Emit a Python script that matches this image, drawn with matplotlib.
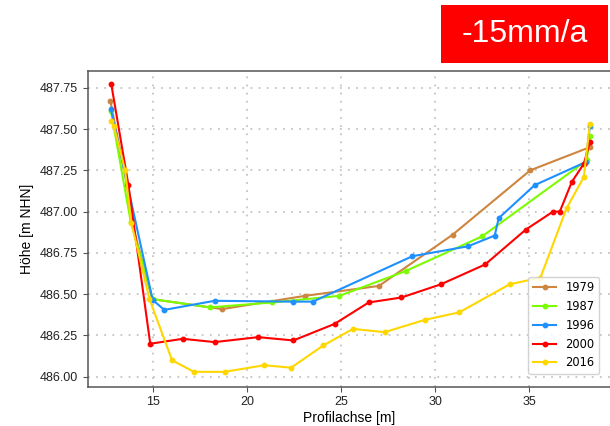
import numpy as np
import matplotlib.pyplot as plt
from matplotlib.patches import Rectangle

# profile data: x = Profilachse [m], y = Hoehe [m NHN]
x_1979 = [12.72, 13.60, 13.85, 14.95, 18.67, 23.07, 27.00, 30.92, 35.05, 38.22]
y_1979 = [487.67, 487.16, 486.94, 486.47, 486.41, 486.49, 486.55, 486.86, 487.25, 487.39]

x_1987 = [12.75, 13.80, 14.97, 18.00, 21.33, 24.90, 28.42, 32.49, 38.05, 38.22]
y_1987 = [487.61, 486.94, 486.47, 486.42, 486.45, 486.49, 486.64, 486.85, 487.31, 487.46]

x_1996 = [12.75, 14.97, 15.59, 18.26, 22.45, 23.49, 28.78, 31.74, 33.16, 33.37, 35.28, 38.00, 38.22]
y_1996 = [487.62, 486.465, 486.405, 486.46, 486.455, 486.455, 486.73, 486.79, 486.855, 486.96, 487.16, 487.30, 487.52]

x_2000 = [12.77, 13.68, 14.84, 16.57, 18.26, 20.58, 22.45, 24.64, 26.46, 28.20, 30.30,
          32.65, 34.80, 36.26, 36.62, 37.26, 37.90, 38.22]
y_2000 = [487.77, 487.16, 486.20, 486.23, 486.21, 486.24, 486.22, 486.32, 486.45, 486.48, 486.56,
          486.68, 486.89, 487.00, 487.00, 487.18, 487.29, 487.42]

x_2016 = [12.75, 12.90, 13.50, 13.84, 14.80, 16.00, 17.16, 18.80, 20.90, 22.33, 24.05, 25.62,
          27.30, 29.45, 31.27, 33.95, 35.59, 36.98, 37.90, 38.22]
y_2016 = [487.55, 487.52, 487.25, 486.93, 486.47, 486.10, 486.03, 486.03, 486.07, 486.055, 486.19, 486.29,
          486.27, 486.345, 486.39, 486.56, 486.60, 487.02, 487.21, 487.53]

series = [('1979', x_1979, y_1979, 'peru'),
          ('1987', x_1987, y_1987, 'lawngreen'),
          ('1996', x_1996, y_1996, 'dodgerblue'),
          ('2000', x_2000, y_2000, 'red'),
          ('2016', x_2016, y_2016, 'gold')]

plt.rcParams['font.family'] = ['Liberation Sans', 'DejaVu Sans']

fig = plt.figure(figsize=(6.1, 4.26), dpi=100)
ax = fig.add_axes([88/610, 1 - 386.7/426, 1 - 88/610, (386.7 - 70.7)/426])

for label, xs, ys, col in series:
    ax.plot(xs, ys, color=col, marker='o', markersize=3.2, linewidth=1.5, label=label)

ax.set_xlim(11.53, 39.29)
ax.set_ylim(485.94, 487.853)
ax.set_xticks([15, 20, 25, 30, 35])
ax.set_yticks(np.arange(486.0, 487.76, 0.25))
ax.yaxis.set_major_formatter(plt.FormatStrFormatter('%.2f'))
ax.tick_params(labelsize=9, length=3.5, color='#555555', labelcolor='#222222')

ax.grid(True, linestyle=(0, (1, 3.5)), linewidth=1.3, color='#c4c4c4')
ax.set_axisbelow(True)
for s in ['left', 'bottom', 'top']:
    ax.spines[s].set_color('#555555')
    ax.spines[s].set_linewidth(1.1)
ax.spines['right'].set_visible(False)

ax.set_xlabel('Profilachse [m]', fontsize=10, labelpad=2)
ax.set_ylabel('Höhe [m NHN]', fontsize=10, labelpad=4)

leg = ax.legend(loc='lower right', bbox_to_anchor=(0.979, 0.040), borderaxespad=0,
                prop={'family': 'DejaVu Sans', 'size': 8.3},
                fancybox=True, framealpha=0.85)

# red rate box top right
fig.patches.append(Rectangle((441/610, 1 - 63/426), 167/610, 58/426,
                             transform=fig.transFigure, facecolor='red', edgecolor='none'))
fig.text(524.5/610, 1 - 34/426, '-15mm/a', color='white', fontsize=23,
         ha='center', va='center')

fig.savefig('out.png', dpi=100)
